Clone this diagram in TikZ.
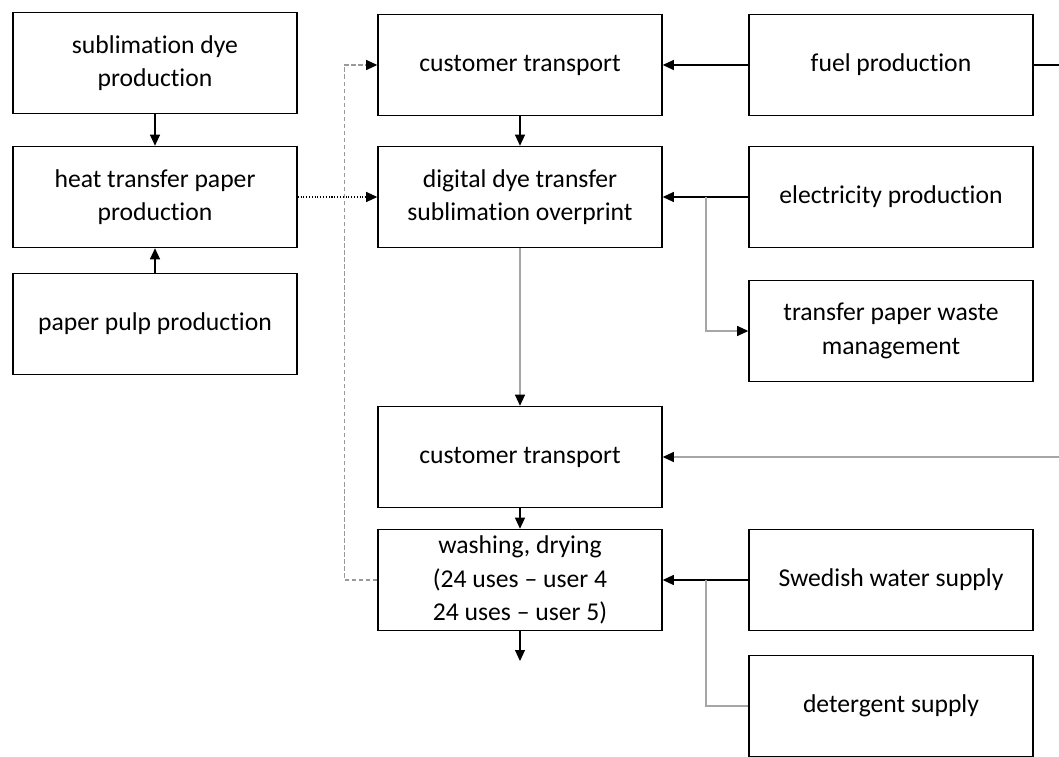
\documentclass[tikz,border=0pt]{standalone}
\usepackage{fontspec}
\setmainfont[Ligatures=NoCommon]{Carlito}
\usetikzlibrary{arrows.meta}
\begin{document}
\begin{tikzpicture}[x=0.02cm,y=-0.02cm,
  box/.style={draw,line width=0.9pt,minimum width=5.68cm,minimum height=2.02cm,
    inner sep=0pt,align=center,font=\fontsize{14.6}{19}\selectfont},
  arr/.style={line width=0.6pt,-{Triangle[length=0.22cm,width=0.2cm,color=black,fill=black]}},
  link/.style={line width=0.6pt},
  greyline/.style={link,draw=gray!70},
  loopback/.style={line width=0.6pt,draw=gray!80,dash pattern=on 2.5pt off 1.5pt}]
\useasboundingbox (0,0) rectangle (1059,757);

% left column
  \node[box] (dye) at (155,63) {sublimation dye\\production};
  \node[box] (heat) at (155,197) {heat transfer paper\\production};
  \node[box] (pulp) at (155,324) {paper pulp production};

% middle column
  \node[box] (cust1) at (520,65) {customer transport};
  \node[box] (print) at (520,197) {digital dye transfer\\sublimation overprint};
  \node[box] (cust2) at (520,457) {customer transport};
  \node[box] (wash) at (520,580) {washing, drying\\(24 uses -- user 4\\24 uses -- user 5)};

% right column
  \node[box] (fuel) at (891,65) {fuel production};
  \node[box] (elec) at (891,197) {electricity production};
  \node[box] (waste) at (891,331) {transfer paper waste\\management};
  \node[box] (water) at (891,580) {Swedish water supply};
  \node[box] (deter) at (891,706) {detergent supply};

% free ends and branch points
  \coordinate (fuelout) at (1059,65);
  \coordinate (fuelin) at (1059,457);
  \coordinate (elecsplit) at (706,197);
  \coordinate (watersplit) at (706,580);
  \coordinate (washout) at (520,661);

% connectors
  \draw[arr] (dye) -- (heat);
  \draw[arr] (pulp) -- (heat);
  \draw[arr,densely dotted] (heat) -- (print);
  \draw[arr] (cust1) -- (print);
  \draw[arr] (fuel) -- (cust1);
  \draw[link] (fuel) -- (fuelout);
  \draw[arr] (elec) -- (print);
  \draw[greyline,arr] (elecsplit) |- (waste.west);
  \draw[greyline,arr] (print) -- (cust2);
  \draw[greyline,arr] (fuelin) -- (cust2);
  \draw[arr] (cust2) -- (wash);
  \draw[arr] (wash) -- (washout);
  \draw[arr] (water) -- (wash);
  \draw[greyline] (watersplit) |- (deter.west);
  \draw[loopback,arr] (wash.west) -- ++(-33,0) |- (cust1.west);
\end{tikzpicture}
\end{document}
